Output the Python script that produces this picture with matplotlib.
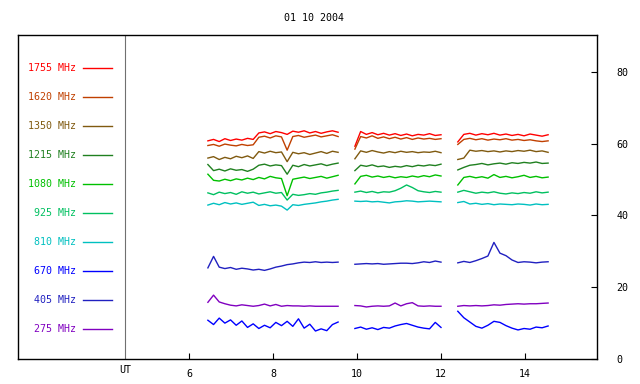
import matplotlib
matplotlib.use("Agg")
import matplotlib.pyplot as plt
import numpy as np

title = "01 10 2004"

# observation segments (UT hours)
seg_bounds = [(6.45, 9.55), (9.95, 12.0), (12.4, 14.55)]

freqs = ["1755", "1620", "1350", "1215", "1080", "925", "810", "670", "405", "275"]
colors = ["#ff0000", "#c04000", "#805a10", "#208020", "#00c000",
          "#00c060", "#00c0c0", "#0000ff", "#2020c0", "#8000c0"]

# flux values per segment
seg1 = {
    "1755": [60.8, 61.2, 60.6, 61.4, 60.9, 61.3, 61.0, 61.5, 61.2, 63.0, 63.3, 62.8,
             63.4, 63.1, 62.6, 63.5, 63.2, 63.6, 63.0, 63.4, 62.9, 63.3, 63.6, 63.2],
    "1620": [59.5, 59.8, 59.3, 59.9, 59.6, 59.4, 59.8, 59.5, 59.7, 61.8, 62.1, 61.6,
             62.2, 61.9, 58.2, 62.0, 62.3, 61.8, 62.1, 62.4, 61.9, 62.2, 62.5, 62.0],
    "1350": [56.0, 56.4, 55.6, 56.2, 55.8, 56.5, 56.1, 56.6, 55.9, 57.8, 57.4, 57.9,
             57.5, 57.7, 55.0, 57.6, 57.2, 57.5, 57.0, 57.4, 57.8, 57.3, 57.9, 57.6],
    "1215": [54.2, 52.5, 52.9, 52.4, 53.0, 52.6, 52.8, 52.3, 52.9, 54.0, 54.3, 53.8,
             54.1, 53.9, 51.5, 54.0, 53.6, 54.2, 53.8, 54.1, 54.4, 53.9, 54.3, 54.6],
    "1080": [51.5, 49.8, 49.6, 50.1, 49.7, 50.2, 49.9, 50.4, 50.0, 50.6, 50.2, 50.9,
             50.5, 50.3, 45.5, 50.1, 50.4, 50.7, 50.3, 50.6, 50.9, 50.4, 50.8, 51.2],
    "925":  [46.3, 45.8, 46.5, 46.1, 46.4, 45.9, 46.6, 46.2, 46.5, 46.0, 46.3, 46.6,
             46.2, 46.4, 44.3, 45.9, 45.6, 45.8, 46.1, 45.9, 46.3, 46.5, 46.8, 47.0],
    "810":  [42.9, 43.4, 43.0, 43.6, 43.2, 43.5, 43.1, 43.4, 43.7, 42.8, 43.1, 42.7,
             42.9, 42.6, 41.5, 43.0, 42.8, 43.1, 43.3, 43.5, 43.8, 44.0, 44.3, 44.5],
    "670":  [10.8, 9.6, 11.4, 10.0, 10.9, 9.4, 10.6, 8.8, 9.8, 8.5, 9.4, 8.7,
             10.2, 9.3, 10.5, 9.1, 11.2, 8.6, 9.7, 7.8, 8.4, 7.9, 9.6, 10.3],
    "405":  [25.4, 28.6, 25.6, 25.2, 25.5, 25.0, 25.3, 25.1, 24.8, 25.0, 24.7, 25.1,
             25.6, 25.9, 26.3, 26.5, 26.8, 27.0, 26.9, 27.1, 26.9, 27.0, 26.9, 27.0],
    "275":  [15.8, 17.8, 15.9, 15.4, 15.0, 14.8, 15.1, 14.9, 14.7, 14.9, 15.3, 14.8,
             15.2, 14.7, 14.9, 14.8, 14.8, 14.7, 14.8, 14.7, 14.7, 14.7, 14.7, 14.7],
}
seg2 = {
    "1755": [59.3, 63.4, 62.6, 63.1, 62.5, 62.9, 62.4, 62.8, 62.3, 62.7, 62.2, 62.6, 62.4, 62.8, 62.3, 62.5],
    "1620": [58.5, 62.0, 61.6, 62.2, 61.5, 61.9, 61.4, 61.8, 61.3, 61.7, 61.2, 61.6, 61.3, 61.5, 61.2, 61.4],
    "1350": [55.8, 58.0, 57.6, 58.1, 57.7, 57.4, 57.8, 57.5, 57.9, 57.6, 57.8, 57.5, 57.7, 57.6, 57.9, 57.5],
    "1215": [52.5, 54.0, 53.7, 54.1, 53.6, 53.8, 53.4, 53.7, 53.5, 53.9, 53.6, 54.0, 53.8, 54.1, 53.9, 54.3],
    "1080": [48.8, 50.9, 51.2, 50.7, 51.0, 50.6, 50.9, 50.5, 50.8, 50.6, 51.0, 50.7, 51.1, 50.8, 51.3, 51.0],
    "925":  [46.5, 46.8, 46.4, 46.7, 46.3, 46.6, 46.5, 46.9, 47.6, 48.5, 47.8, 46.9, 46.6, 46.4, 46.7, 46.5],
    "810":  [44.0, 43.9, 44.0, 43.8, 43.9, 43.7, 43.5, 43.8, 43.9, 44.1, 44.0, 43.8, 43.9, 44.0, 43.9, 43.8],
    "670":  [8.5, 8.9, 8.3, 8.7, 8.2, 8.8, 8.6, 9.2, 9.6, 9.9, 9.4, 8.9, 8.6, 8.4, 10.2, 8.8],
    "405":  [26.4, 26.5, 26.6, 26.5, 26.6, 26.4, 26.5, 26.6, 26.7, 26.7, 26.6, 26.8, 27.1, 26.9, 27.3, 27.0],
    "275":  [14.9, 14.8, 14.5, 14.7, 14.8, 14.7, 14.8, 15.6, 14.8, 15.4, 15.7, 14.8, 14.7, 14.8, 14.7, 14.7],
}
seg3 = {
    "1755": [60.5, 62.6, 62.9, 62.4, 62.8, 62.5, 62.9, 62.4, 62.7, 62.3, 62.6, 62.2, 62.7, 62.4, 62.1, 62.5],
    "1620": [59.8, 61.2, 61.5, 61.1, 61.4, 61.0, 61.3, 61.1, 61.4, 61.0, 61.2, 60.9, 61.1, 60.8, 60.6, 60.8],
    "1350": [55.6, 56.0, 58.2, 57.9, 58.1, 57.8, 58.0, 57.7, 58.0, 57.8, 58.1, 57.9, 58.2, 57.8, 58.0, 57.6],
    "1215": [52.7, 53.4, 54.0, 54.2, 54.5, 54.1, 54.4, 54.6, 54.3, 54.7, 54.5, 54.8, 54.6, 54.9, 54.5, 54.6],
    "1080": [48.5, 50.6, 50.9, 50.5, 50.8, 50.4, 51.4, 50.6, 50.9, 50.5, 50.8, 51.2, 50.6, 50.9, 50.5, 50.7],
    "925":  [46.5, 47.0, 46.6, 46.2, 46.5, 46.3, 46.6, 46.2, 46.0, 46.3, 46.1, 46.4, 46.2, 46.6, 46.3, 46.5],
    "810":  [43.6, 43.9, 43.2, 43.4, 43.1, 43.3, 43.0, 43.2, 43.1, 43.0, 43.2, 43.1, 42.9, 43.2, 43.0, 43.1],
    "670":  [13.3, 11.5, 10.3, 9.1, 8.6, 9.4, 10.5, 10.2, 9.3, 8.6, 8.1, 8.5, 8.3, 8.9, 8.7, 9.2],
    "405":  [26.8, 27.2, 26.9, 27.4, 28.0, 28.7, 32.5, 29.5, 28.8, 27.6, 26.9, 27.1, 27.0, 26.8, 27.0, 27.1],
    "275":  [14.7, 14.9, 14.8, 14.9, 14.8, 14.9, 15.1, 15.0, 15.2, 15.3, 15.4, 15.3, 15.4, 15.4, 15.5, 15.6],
}
segments = [seg1, seg2, seg3]

yticks = [0, 20, 40, 60, 80]
xticks = [6, 8, 10, 12, 14]

mono = "DejaVu Sans Mono"


def main():
    fig = plt.figure(figsize=(6.4, 3.84), dpi=100)
    ax = fig.add_axes([18 / 640, 25 / 384, 579 / 640, 324 / 384])

    for seg, (t0, t1) in zip(segments, seg_bounds):
        for f, c in zip(freqs, colors):
            vals = seg[f]
            t = np.linspace(t0, t1, len(vals))
            ax.plot(t, vals, color=c, lw=1.0)

    ax.set_xlim(1.929, 15.714)
    ax.set_ylim(0, 90.3)

    # separator between legend area and data
    sep_x = 4.476
    ax.axvline(sep_x, color="#707070", lw=0.8)

    # legend on the left
    for i, (f, c) in enumerate(zip(freqs, colors)):
        y = 81.1 - i * 8.08
        ax.text(3.31, y, f + " MHz", color=c, ha="right", va="center",
                family=mono, fontsize=7.2)
        ax.plot([3.48, 4.17], [y, y], color=c, lw=1.0)

    ax.yaxis.tick_right()
    ax.set_yticks(yticks)
    ax.set_xticks(xticks)
    ax.tick_params(direction="in", length=4, width=0.8, labelsize=7.2)
    ax.tick_params(axis="y", pad=14)
    ax.tick_params(axis="x", pad=7)
    for lab in ax.get_xticklabels() + ax.get_yticklabels():
        lab.set_family(mono)
    for s in ax.spines.values():
        s.set_linewidth(1.0)

    ax.text(sep_x, -1.8, "UT", ha="center", va="top", family=mono, fontsize=7.2)
    fig.text(314 / 640, 1 - 18 / 384, title, ha="center", va="center",
             family=mono, fontsize=7.2)

    fig.savefig("out.png", dpi=100)


if __name__ == "__main__":
    main()
